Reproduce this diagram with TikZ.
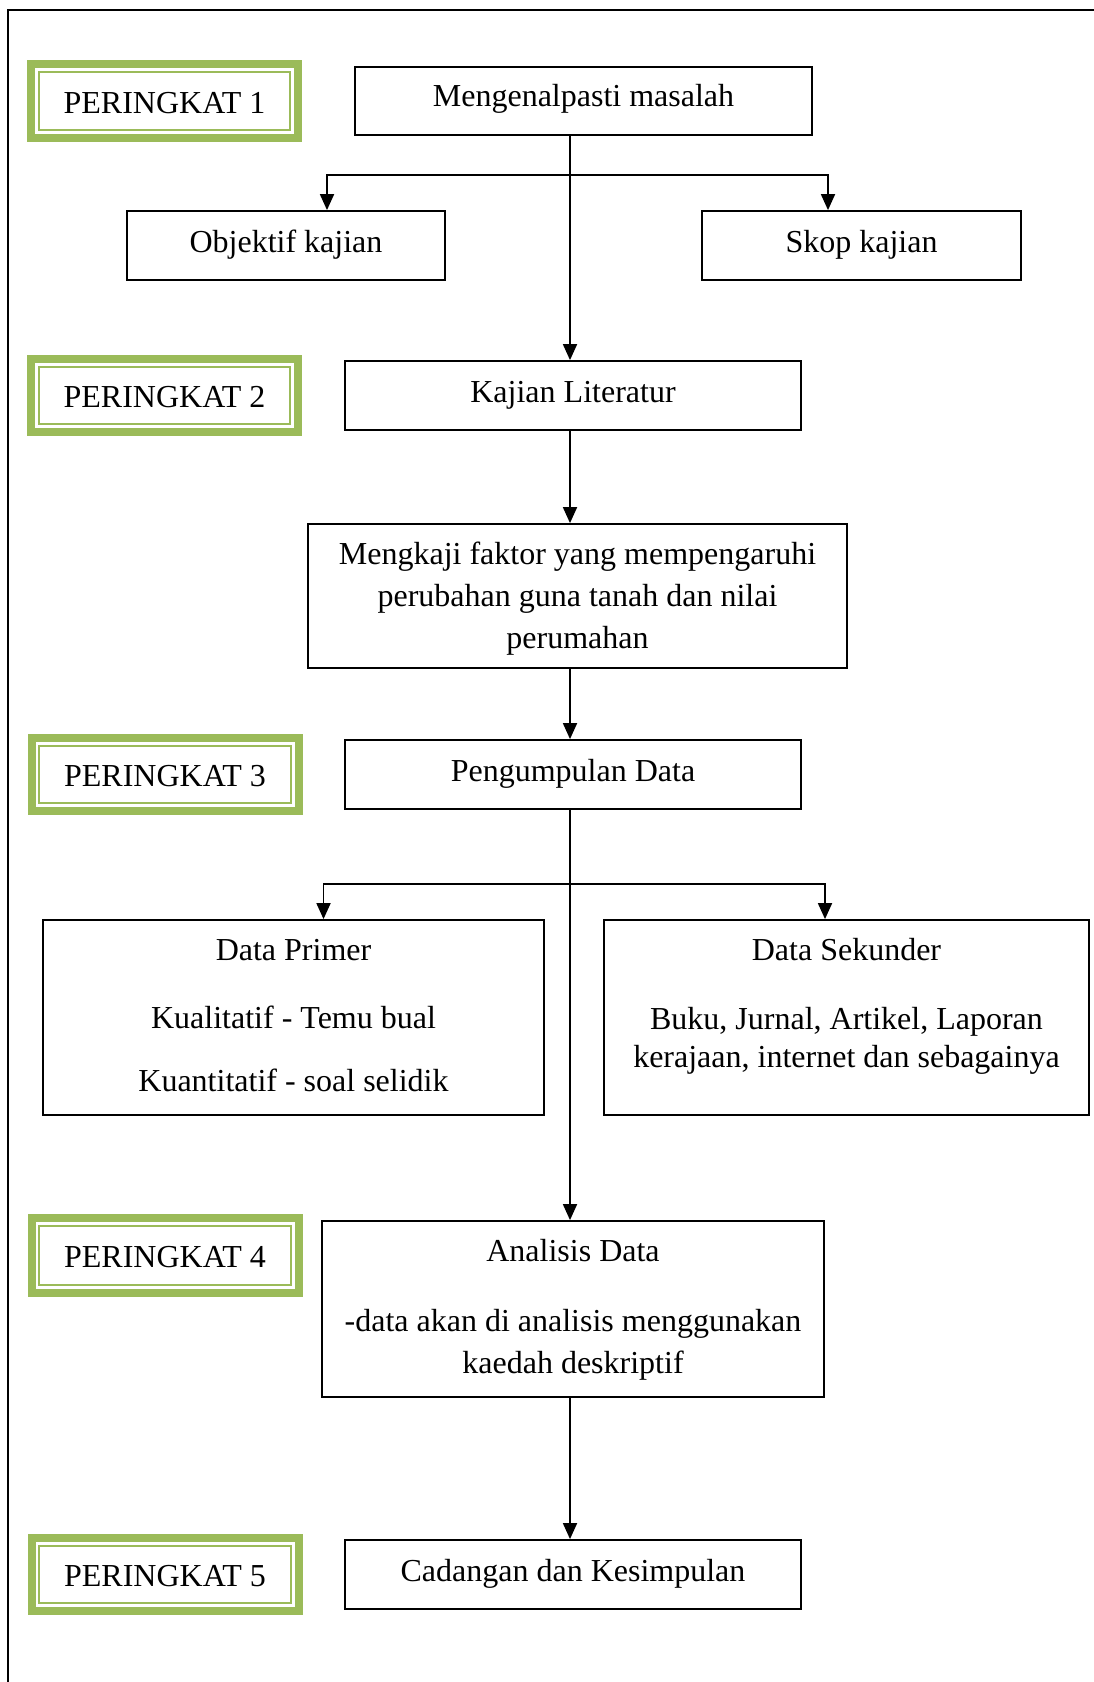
\documentclass[tikz,border=0pt]{standalone}
\usepackage{fontspec}
\setmainfont{Liberation Serif}
\usetikzlibrary{arrows.meta}
\definecolor{pgreen}{HTML}{9BBB59}
\begin{document}
\begin{tikzpicture}[x=1pt,y=-1pt,
  every node/.style={font=\fontsize{32}{40}\selectfont, inner sep=0pt},
  box/.style={draw=black, line width=1.8pt, fill=white},
  pbox/.style={draw=pgreen, line width=8pt, fill=white, minimum width=267pt, minimum height=74pt,
     text height=30pt, text depth=6pt,
     path picture={\draw[pgreen, line width=2.2pt] ([shift={(7.8pt,-7.8pt)}]path picture bounding box.north west) rectangle ([shift={(-7.8pt,7.8pt)}]path picture bounding box.south east);}},
  txt/.style={anchor=base},
  arr/.style={line width=1.8pt, -{Triangle[width=14pt,length=16pt]}},
  frame/.style={line width=2pt}
]
\useasboundingbox (0,0) rectangle (1094,1682);

% outer frame
\draw[frame] (1094,10) -- (8,10) -- (8,1682);

% stage labels
\node[pbox] (p1) at (164.5,101) {PERINGKAT 1};
\node[pbox, minimum height=73pt] (p2) at (164.5,395.5) {PERINGKAT 2};
\node[pbox, minimum height=73pt] (p3) at (165,774.5) {PERINGKAT 3};
\node[pbox, minimum height=75pt] (p4) at (165,1255.5) {PERINGKAT 4};
\node[pbox, minimum height=73pt] (p5) at (165,1574.5) {PERINGKAT 5};

% single-line boxes
\node[box, minimum width=457pt, minimum height=68pt, text height=23.5pt, text depth=12.5pt] (m) at (583.5,101) {Mengenalpasti masalah};
\node[box, minimum width=318pt, minimum height=69pt, text height=24.5pt, text depth=11.5pt] (obj) at (286,245.5) {Objektif kajian};
\node[box, minimum width=319pt, minimum height=69pt, text height=24.5pt, text depth=11.5pt] (skop) at (861.5,245.5) {Skop kajian};
\node[box, minimum width=456pt, minimum height=69pt, text height=25pt, text depth=11pt] (lit) at (573,395.5) {Kajian Literatur};
\node[box, minimum width=456pt, minimum height=69pt, text height=25pt, text depth=11pt] (peng) at (573,774.5) {Pengumpulan Data};
\node[box, minimum width=456pt, minimum height=69pt, text height=24.5pt, text depth=11.5pt] (cad) at (573,1574.5) {Cadangan dan Kesimpulan};

% multi-line boxes
\node[box, minimum width=539pt, minimum height=144pt] (mk) at (577.5,596) {};
\node[txt] (mk1) at (577.5,564.5) {Mengkaji faktor yang mempengaruhi};
\node[txt] (mk2) at (577.5,606.5) {perubahan guna tanah dan nilai};
\node[txt] (mk3) at (577.5,648.5) {perumahan};

\node[box, minimum width=501pt, minimum height=195pt] (prim) at (293.5,1017.5) {};
\node[txt] (pr1) at (293.5,960) {Data Primer};
\node[txt] (pr2) at (293.5,1028.5) {Kualitatif - Temu bual};
\node[txt] (pr3) at (293.5,1091.5) {Kuantitatif - soal selidik};

\node[box, minimum width=485pt, minimum height=195pt] (sek) at (846.5,1017.5) {};
\node[txt] (se1) at (846.5,960) {Data Sekunder};
\node[txt] (se2) at (846.5,1029) {Buku, Jurnal, Artikel, Laporan};
\node[txt] (se3) at (846.5,1067) {kerajaan, internet dan sebagainya};

\node[box, minimum width=502pt, minimum height=176pt] (an) at (573,1309) {};
\node[txt] (an1) at (573,1261) {Analisis Data};
\node[txt] (an2) at (573,1331) {-data akan di analisis menggunakan};
\node[txt] (an3) at (573,1373) {kaedah deskriptif};

% connectors
\coordinate (cl) at (570,0);
\coordinate (j1) at (570,175);
\coordinate (bl1) at (327,175);
\coordinate (br1) at (828,175);
\coordinate (j2) at (570,884);
\coordinate (bl2) at (323.5,884);
\coordinate (br2) at (825,884);

\draw[arr] (m.south -| cl) -- (lit.north -| cl);
\draw[arr] (j1) -| (bl1 |- obj.north);
\draw[arr] (j1) -| (br1 |- skop.north);
\draw[arr] (lit.south -| cl) -- (mk.north -| cl);
\draw[arr] (mk.south -| cl) -- (peng.north -| cl);
\draw[arr] (peng.south -| cl) -- (an.north -| cl);
\draw[arr] (j2) -| (bl2 |- prim.north);
\draw[arr] (j2) -| (br2 |- sek.north);
\draw[arr] (an.south -| cl) -- (cad.north -| cl);
\end{tikzpicture}
\end{document}
